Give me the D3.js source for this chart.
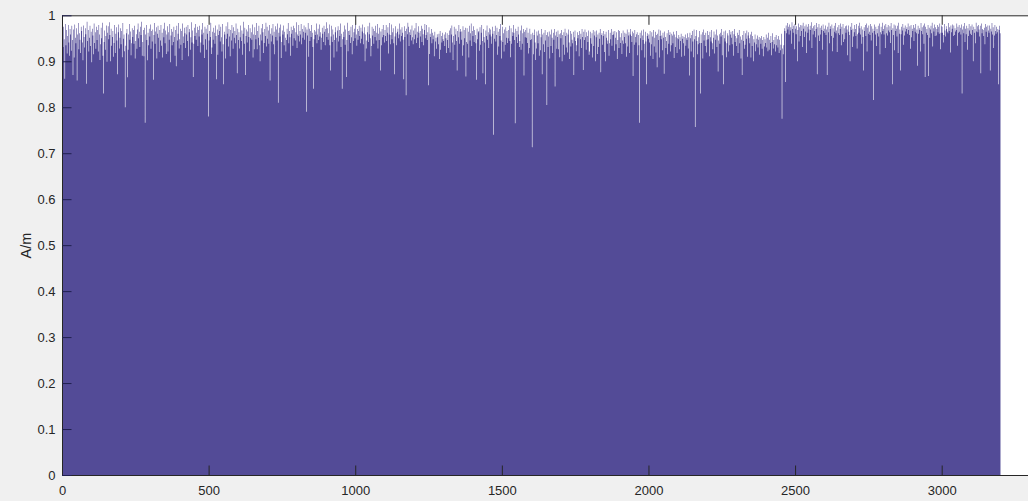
<!DOCTYPE html>
<html><head><meta charset="utf-8">
<script src="https://cdn.jsdelivr.net/npm/d3@7/dist/d3.min.js"></script>
<style>
html,body{margin:0;padding:0;background:#f0f0f0;}
svg{display:block;}
text{font-family:"Liberation Sans",Arial,Helvetica,sans-serif;}
</style></head>
<body>
<svg id="chart" width="1028" height="501"></svg>
<script>
// ---- data (thousandths of A/m, each value covers 2 consecutive samples) ----
const segA = "962 931 975 948 862 981 935 968 917 955 979 941 912 970 958 923 977 946 870 969 908 980 951 939 972 858 958 983 926 961 947 918 975 966 941 902 978 953 930 972 959 851 986 944 968 921 951 977 933 964 898 971 956 915 982 940 963 927 975 946 968 921 979 958 903 937 973 950 984 912 830 942 967 925 955 978 899 962 976 948 985 957 900 971 934 953 966 910 940 979 918 960 974 945 872 963 980 928 951 972 937 966 909 983 949 958 922 800 934 961 970 865 925 958 981 947 965 913 939 972 953 968 938 977 906 944 959 927 969 982 950 964 931 975 957 986 912 942 968 911 973 766 958 979 946 902 962 935 971 954 980 927 966 943 969 860 957 983 938 965 974 906 960 977 951 920 968 945 979 934 962 908 971 952 984 939 967 916 958 976 921 963 947 981 898 956 970 935 964 942 975 953 912 968 889 977 945 960 983 928";
const segB = "948 971 936 966 903 982 954 940 973 961 929 975 958 944 979 911 963 970 925 952 985 941 967 866 938 973 955 981 947 962 975 933 968 954 977 919 941 969 958 983 936 962 907 975 948 971 925 960 979 780 945 966 953 984 916 930 964 947 973 962 938 978 955 861 969 914 957 980 966 943 975 952 921 981 937 850 964 958 906 976 949 960 985 932 970 954 911 968 945 979 961 927 974 951 966 939 982 957 874 971 946 963 928 952 978 944 967 914 960 986 938 973 870 955 969 941 965 979 953 922 972 950 963 947 980 908 958 926 974 957 948 983 926 966 951 977 935 900 958 972 945 981 963 918 940 970 955 984 932 975 949 967 938 979 858 960 943 972 956 981 937 964 915 976 953 969 945 982 810 962 973 954 980 907 942 967 958 978 935 964 951 921 946 971 959 983 939 966 952 912 975 960 968 934 977 950 972 945 963 985";
const segC = "929 958 955 979 943 966 958 981 937 970 951 964 978 947 962 974 790 969 956 983 910 971 944 966 953 979 962 931 840 948 968 957 965 982 939 958 971 946 980 954 963 925 951 973 960 942 977 964 935 970 985 953 972 947 961 980 935 880 954 977 942 969 958 908 946 963 974 951 921 967 976 943 968 955 982 931 960 840 948 964 953 978 936 969 866 946 984 922 966 957 967 940 975 952 915 979 944 963 971 950 981 958 934 970 947 966 977 955 939 973 949 965 980 937 961 974 900 958 928 945 963 976 942 959 984 950 911 933 975 956 971 938 966 953 977 945 962 981 928 960 946 973 880 965 935 970 952 979 957 941 968 955 979 944 962 974 917 958 983 937 957 980 948 963 972 939 872 954 976 961 935 964 971 950 958 982 943 969 955 974 962 947 861 976 953 966 826 971 959 984 975 933 963 957 969 945 978 952 937 967";
const segD = "948 972 958 983 940 964 951 976 962 929 966 954 977 942 971 959 935 968 981 950 957 979 946 963 848 974 916 960 953 970 939 962 948 956 911 964 943 951 927 959 952 937 960 905 966 925 955 941 962 948 944 958 933 963 950 918 961 946 929 957 967 919 972 958 978 941 903 955 975 936 958 971 944 880 966 952 979 938 964 970 947 965 912 976 935 968 950 973 867 942 972 938 964 908 977 945 961 982 933 966 955 976 942 968 957 939 860 971 948 963 966 923 974 936 962 979 944 874 970 953 941 850 967 955 978 947 963 929 972 958 969 954 938 975 960 740 966 949 977 943 957 973 914 964 932 970 955 981 945 906 975 942 961 921 969 936 974 951 966 940 950 968 977 944 909 972 938 963 955 979 962 946 765 971 953 966 940 975 958 931 944 967 925 978 938 961 970 869 964 952 968 951 973 940 962 917 929 971 946 959";
const segE = "948 713 962 915 957 969 941 903 928 965 956 939 967 912 960 924 952 970 872 958 937 962 920 968 945 957 805 963 931 954 965 906 958 933 969 951 918 962 947 970 845 956 964 927 953 967 926 959 909 961 950 968 900 957 936 963 914 971 955 930 962 919 958 969 941 905 966 932 960 947 939 964 870 952 967 944 922 935 963 950 957 911 966 948 960 929 970 953 881 964 946 969 952 925 963 955 942 967 914 921 964 950 938 961 908 968 933 956 965 900 952 967 916 958 931 962 949 970 876 957 961 936 955 966 920 959 900 964 951 938 945 968 912 939 962 948 970 934 957 965 958 923 966 951 937 963 905 946 968 929 966 952 940 961 916 945 967 938 953 962 939 960 910 969 932 956 963 918 958 970 955 942 965 868 961 936 968 953 941 959 963 913 957 935 766 962 950 967 924 956 946 969 938 908 964 943 850 955 961 949";
const segF = "958 941 966 912 937 963 954 905 968 932 951 964 919 957 887 960 946 969 908 955 967 948 956 924 962 951 873 965 953 929 944 961 915 968 938 957 963 921 935 960 956 939 964 907 958 931 952 966 918 950 948 957 926 952 944 960 910 949 955 939 953 912 958 934 950 946 961 928 952 869 962 950 921 957 966 943 909 969 948 757 955 968 944 915 937 952 966 940 830 958 940 963 906 969 945 957 933 962 919 947 966 948 957 911 964 952 943 968 939 926 951 965 917 958 947 969 931 956 878 945 959 938 962 954 970 913 957 850 965 950 943 967 909 939 961 956 921 968 935 958 964 951 937 966 912 959 970 942 955 933 950 962 918 957 968 939 954 906 947 870 957 944 966 927 936 961 949 967 910 956 963 950 939 958 908 964 933 955 900 948 941 958 922 937 949 956 930 947 953 914 950 938 955 927 946 911 953 932 948 940";
const segG = "958 930 951 922 962 925 947 940 955 913 942 961 928 946 937 953 921 957 935 948 930 955 918 947 924 936 960 775 928 915 935 972 966 855 978 961 983 969 975 958 980 967 974 938 985 970 962 977 926 981 971 959 976 900 968 982 943 974 955 979 966 978 931 984 971 953 976 965 980 918 975 962 981 969 945 977 968 985 929 972 958 976 966 979 952 970 983 872 974 956 981 944 973 958 977 968 925 980 966 971 962 978 957 969 870 975 963 984 939 970 976 955 980 922 972 951 977 964 983 961 967 920 974 961 979 957 970 982 935 975 959 981 942 972 948 976 962 978 969 913 978 964 957 900 975 968 983 931 971 954 963 979 970 955 981 928 959 977 962 984 972 958 976 938 969 953 880 974 966 979 955 982 921 973 960 978 964 957 981 945 976 962 971 816 966 980 958 975 933 970 961 977 954 982 915 963 975 959 984 966";
const segH = "970 958 978 929 981 961 974 956 979 967 963 976 940 983 968 850 972 957 980 924 978 966 971 954 977 918 984 960 969 880 959 975 967 981 936 973 956 978 965 970 974 960 982 968 957 976 927 979 952 971 966 979 944 973 964 981 961 969 890 977 960 972 968 921 983 966 974 959 978 938 982 866 975 962 970 957 979 868 973 951 969 977 961 984 932 972 965 980 955 974 956 970 979 963 975 960 982 926 962 978 975 962 941 957 981 967 954 976 970 964 961 983 966 974 919 978 963 971 980 955 978 957 972 965 968 982 934 975 962 979 964 973 958 980 830 969 976 961 983 942 971 959 977 925 972 955 981 967 960 976 957 980 968 900 975 962 970 939 984 965 976 963 979 969 954 977 874 982 961 970 968 955 973 937 981 964 975 953 978 967 962 978 880 971 965 983 958 974 929 956 979 966 960 975 963 970 850 968 977 961";

const samplesPerValue = 2;
const xTicks = [0, 500, 1000, 1500, 2000, 2500, 3000];
const yTicks = [0, 0.1, 0.2, 0.3, 0.4, 0.5, 0.6, 0.7, 0.8, 0.9, 1];
const yLabel = "A/m";

const values = [segA, segB, segC, segD, segE, segF, segG, segH]
  .flatMap(s => s.trim().split(/\s+/).map(Number))
  .map(v => v / 1000);

// ---- layout ----
const W = 1028, H = 501;
const padL = 62, padB = 475, padT = 15.3;
const x = d3.scaleLinear().domain([0, 3500]).range([padL, padL + 3500 * 0.29323]);
const y = d3.scaleLinear().domain([0, 1]).range([padB, padT]);

const svg = d3.select("#chart");
svg.append("rect").attr("width", W).attr("height", H).attr("fill", "#f0f0f0");
svg.append("rect").attr("x", padL).attr("y", padT).attr("width", W - padL + 5).attr("height", padB - padT).attr("fill", "#ffffff");

// all bars as one path -> no antialias seams between adjacent bars
const barColor = "#534b97";
const p = d3.path();
values.forEach((v, i) => {
  const x0 = x(i * samplesPerValue + 0.5), x1 = x((i + 1) * samplesPerValue + 0.5);
  p.rect(x0, y(v), x1 - x0, y(0) - y(v));
});
svg.append("path").attr("d", p.toString()).attr("fill", barColor);

const axColor = "#262626";
const fs = "13px";

const gx = svg.append("g").attr("transform", `translate(0,${padB})`)
  .call(d3.axisBottom(x).tickValues(xTicks).tickFormat(d3.format("d")).tickSizeInner(-9.5).tickSizeOuter(0).tickPadding(11));
const gt = svg.append("g").attr("transform", `translate(0,${padT})`)
  .call(d3.axisTop(x).tickValues(xTicks).tickFormat("").tickSizeInner(-9.5).tickSizeOuter(0));
const gy = svg.append("g").attr("transform", `translate(${padL},0)`)
  .call(d3.axisLeft(y).tickValues(yTicks).tickFormat(d => d3.format("~g")(d)).tickSizeInner(-9.5).tickSizeOuter(0).tickPadding(6.5));

[gx, gt, gy].forEach(g => {
  g.select(".domain").attr("stroke", axColor).attr("stroke-width", 1);
  g.selectAll(".tick line").attr("stroke", axColor).attr("stroke-width", 1);
  g.selectAll(".tick text").attr("fill", axColor).style("font-size", fs)
    .style("font-family", '"Liberation Sans", Arial, sans-serif');
});
gy.selectAll(".tick line").attr("stroke", "#202050");

svg.append("text")
  .attr("transform", `translate(31,245.5) rotate(-90)`)
  .attr("text-anchor", "middle")
  .attr("fill", axColor)
  .style("font-size", "14.5px")
  .text(yLabel);
</script>
</body></html>
